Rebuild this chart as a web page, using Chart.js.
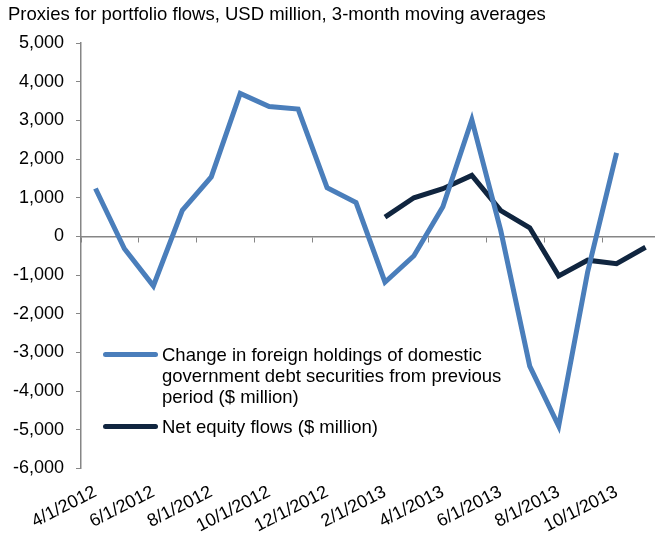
<!DOCTYPE html>
<html>
<head>
<meta charset="utf-8">
<script src="https://cdn.jsdelivr.net/npm/chart.js@4.4.0/dist/chart.umd.min.js"></script>
<style>
    html, body { margin: 0; padding: 0; background: #fff; overflow: hidden; }
    #wrap { position: relative; width: 660px; height: 533px; }
    .legenda { position: absolute; font-family: 'Liberation Sans', Arial, sans-serif; font-size: 18.5px; line-height: 21px; color: #000; white-space: nowrap; }
    .amostra { position: absolute; width: 55px; height: 5px; border-radius: 3px; }
</style>
</head>
<body>
<div id="wrap">
    <canvas id="fluxosChart"></canvas>
    <div class="amostra" style="left:103px; top:352px; background:#4A7EBB;"></div>
    <div class="legenda" style="left:162px; top:344px;">Change in foreign holdings of domestic<br>government debt securities from previous<br>period ($ million)</div>
    <div class="amostra" style="left:103px; top:424px; background:#10253F;"></div>
    <div class="legenda" style="left:162px; top:416px;">Net equity flows ($ million)</div>
</div>
<script>
    // Meses (dados mensais, rótulo a cada dois meses)
    var meses = ['4/1/2012', '5/1/2012', '6/1/2012', '7/1/2012', '8/1/2012', '9/1/2012',
        '10/1/2012', '11/1/2012', '12/1/2012', '1/1/2013', '2/1/2013', '3/1/2013',
        '4/1/2013', '5/1/2013', '6/1/2013', '7/1/2013', '8/1/2013', '9/1/2013',
        '10/1/2013', '11/1/2013'];

    // Variação nas participações estrangeiras em títulos públicos
    var titulosGoverno = [1240, -320, -1280, 675, 1540, 3700, 3360, 3295, 1260, 875,
        -1185, -500, 770, 3020, 150, -3355, -4905, -920, 2160, null];

    // Fluxos líquidos de ações
    var fluxosAcoes = [null, null, null, null, null, null, null, null, null, null,
        500, 1000, 1235, 1580, 670, 225, -1020, -615, -705, -280];

    var nomesSeries = ['Change in foreign holdings of domestic government debt securities from previous period ($ million)',
        'Net equity flows ($ million)'];

    var cinza = '#868686';
    Chart.defaults.font.family = "'Liberation Sans', Arial, sans-serif";
    Chart.defaults.color = '#000';

    var ctx = document.getElementById('fluxosChart').getContext('2d');
    var grafico = new Chart(ctx, {
        type: 'line',
        data: {
            labels: meses,
            datasets: [{
                label: nomesSeries[0],
                data: titulosGoverno,
                borderColor: '#4A7EBB',
                borderWidth: 5,
                pointRadius: 0,
                tension: 0
            }, {
                label: nomesSeries[1],
                data: fluxosAcoes,
                borderColor: '#10253F',
                borderWidth: 5,
                pointRadius: 0,
                tension: 0
            }]
        },
        options: {
            responsive: true,
            maintainAspectRatio: false,
            animation: false,
            layout: { padding: { left: 8, right: 0, top: 0, bottom: 0 } },
            plugins: {
                legend: { display: false },
                tooltip: { enabled: false },
                title: {
                    display: true,
                    text: 'Proxies for portfolio flows, USD million, 3-month moving averages',
                    align: 'start',
                    color: '#000',
                    font: { size: 18.5, weight: 'normal' },
                    padding: { top: 4, bottom: 17 }
                }
            },
            scales: {
                x: {
                    type: 'category',
                    position: 'bottom',
                    offset: true,
                    grid: { display: false, drawTicks: false },
                    border: { display: false },
                    ticks: {
                        autoSkip: false,
                        minRotation: 27,
                        maxRotation: 27,
                        padding: 13,
                        font: { size: 18 },
                        callback: function (valor, i) {
                            return i % 2 === 0 ? meses[i] : '';
                        }
                    },
                    afterFit: function (escala) {
                        escala.height = 64.7;
                        escala.paddingLeft = 0;
                        escala.paddingRight = 0;
                    }
                },
                // eixo na linha do zero, só com as marcas
                x2: {
                    type: 'category',
                    position: { y: 0 },
                    offset: true,
                    grid: {
                        offset: true,
                        drawOnChartArea: false,
                        tickLength: 5,
                        color: function (c) {
                            return c.index % 2 === 0 ? cinza : 'rgba(0,0,0,0)';
                        }
                    },
                    border: { color: cinza, width: 1.5 },
                    ticks: { display: false }
                },
                y: {
                    min: -6000,
                    max: 5000,
                    grid: { drawOnChartArea: false, tickLength: 5, color: cinza },
                    border: { color: cinza, width: 1.5 },
                    ticks: {
                        stepSize: 1000,
                        padding: 12,
                        font: { size: 18 },
                        callback: function (valor) {
                            return valor.toLocaleString('en-US');
                        }
                    },
                    afterFit: function (escala) {
                        escala.width = 73;
                    }
                }
            }
        }
    });
</script>
</body>
</html>
